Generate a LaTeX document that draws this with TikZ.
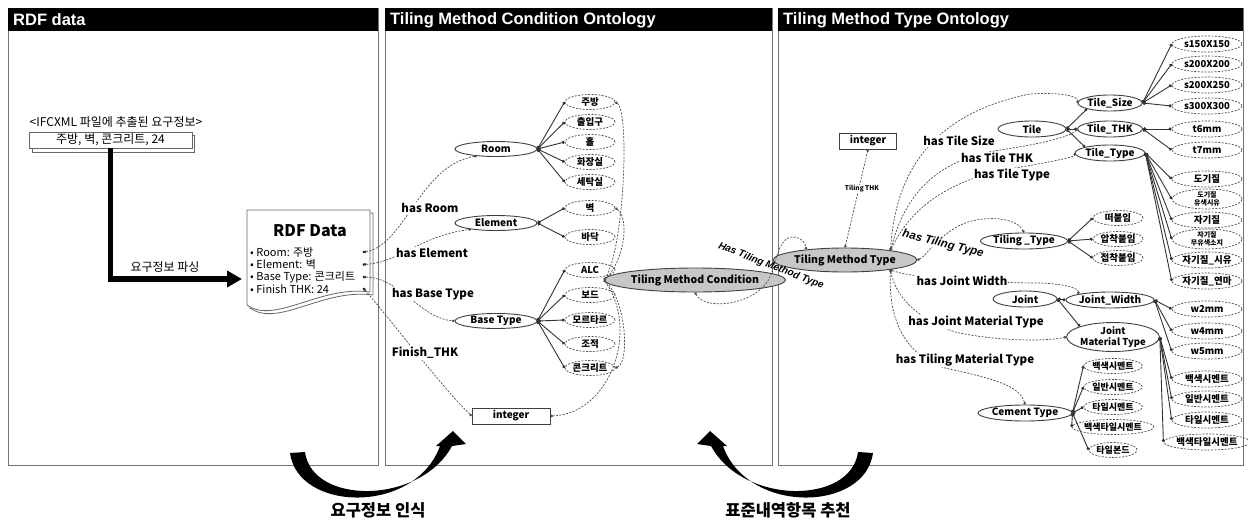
\documentclass[tikz,border=0pt]{standalone}
\usepackage{fontspec}
\setmainfont{Noto Sans CJK KR}
\newfontfamily\headfont{Liberation Sans}
\usetikzlibrary{shapes.geometric,arrows.meta}

\newcommand\fsz[1]{\fontsize{#1}{#1}\selectfont}

\tikzset{
  panel/.style={draw=black!55, line width=0.9pt},
  headtext/.style={text=white, font=\headfont\bfseries\fsz{16.5}, anchor=west, inner sep=0pt},
  cls/.style={ellipse, draw=black!75, line width=0.9pt, inner sep=0pt, minimum height=15pt, font=\bfseries\fsz{10}, align=center},
  inst/.style={ellipse, draw=black!70, dash pattern=on 2pt off 1.4pt, line width=0.7pt, inner sep=0pt,
               minimum width=50pt, minimum height=15pt, font=\bfseries\fsz{9.5}, align=center},
  instr/.style={inst, minimum width=70pt, minimum height=16pt},
  maincls/.style={cls, fill=black!22, minimum width=125pt, minimum height=24pt, font=\bfseries\fsz{10.5}},
  intbox/.style={draw=black!75, line width=0.8pt, minimum height=16pt, inner sep=0pt, font=\bfseries\fsz{10}},
  lnk/.style={draw=black!80, line width=0.9pt, {Circle[length=3.6pt]}-{Circle[length=3pt]}},
  rel/.style={draw=black!70, line width=0.7pt, dash pattern=on 2pt off 1.4pt, {Circle[length=2.6pt]}-{Circle[length=2.6pt]}},
  rellab/.style={font=\bfseries\fsz{11.5}, fill=white, inner sep=1pt},
  slantlab/.style={font=\headfont\bfseries\itshape\fsz{10}, inner sep=0.5pt},
  bigcurve/.style={fill=black},
}

\begin{document}
\begin{tikzpicture}[x=1pt,y=-1pt]
\useasboundingbox (0,0) rectangle (1248,525);
\fill[white] (0,0) rectangle (1248,525);

% ---------- panels and title bars ----------
\draw[panel] (8,8) rectangle (378,465);
\draw[panel] (385,8) rectangle (772,465);
\draw[panel] (778,8) rectangle (1243,465);
\fill (8,8) rectangle (378,31);
\fill (385,8) rectangle (772,31);
\fill (778,8) rectangle (1243,31);
\node[headtext] (h1) at (13,20) {RDF data};
\node[headtext] (h2) at (390,20) {Tiling Method Condition Ontology};
\node[headtext] (h3) at (783,20) {Tiling Method Type Ontology};

% ---------- RDF data panel ----------
\node[font=\fsz{12}] (ifc) at (116,122) {<IFCXML 파일에 추출된 요구정보>};
\draw[black!60, fill=white, line width=0.8pt] (32,135) rectangle (194,152);
\node[draw=black!60, line width=0.8pt, fill=white, minimum width=163pt, minimum height=16pt, inner sep=0pt, font=\fsz{12}] (req) at (110.5,140) {주방, 벽, 콘크리트, 24};

% document with wavy bottom
\begin{scope}[shift={(3,3)}]
  \draw[black!60, fill=white, line width=0.8pt] (247,210) -- (370,210) -- (370,292) .. controls (320,285) and (275,325) .. (247,305) -- cycle;
\end{scope}
\draw[black!60, fill=white, line width=0.8pt] (247,210) -- (370,210) -- (370,292) .. controls (320,285) and (275,325) .. (247,305) -- cycle;
\node[inner sep=0pt, minimum width=123pt, minimum height=96pt] (doc) at (308.5,258) {};
\node[font=\bfseries\fsz{16}] (doctitle) at (310,231) {RDF Data};
\node[anchor=west, font=\fsz{11}, inner sep=0pt] (b1) at (250,252) {• Room: 주방};
\node[anchor=west, font=\fsz{11}, inner sep=0pt] (b2) at (250,264.5) {• Element: 벽};
\node[anchor=west, font=\fsz{11}, inner sep=0pt] (b3) at (250,277) {• Base Type: 콘크리트};
\node[anchor=west, font=\fsz{11}, inner sep=0pt] (b4) at (250,289.5) {• Finish THK: 24};
\coordinate (d1) at (364,252);
\coordinate (d2) at (364,264.5);
\coordinate (d3) at (364,277);
\coordinate (d4) at (364,289);
\foreach \d in {d1,d2,d3,d4} \fill (\d) circle (1.3pt);

% parsing arrow
\coordinate (bend) at (110.5,279);
\coordinate (docin) at (242,279);
\draw[line width=5.5pt, line join=miter, -{Triangle[length=15pt,width=16pt]}] (req.south) -- (bend) -- (docin);
\node[font=\fsz{12}] (parse) at (165,267) {요구정보 파싱};

% ---------- Tiling Method Condition Ontology ----------
\node[cls, minimum width=82pt] (room) at (496,149) {Room};
\node[cls, minimum width=82pt] (elem) at (496,223) {Element};
\node[cls, minimum width=82pt] (base) at (496,321) {Base Type};
\foreach \n/\y/\t in {r1/102/주방, r2/122/출입구, r3/142/홀, r4/162/화장실, r5/182/세탁실}
  \node[inst] (\n) at (590,\y) {\t};
\foreach \n/\y/\t in {e1/208/벽, e2/237/바닥}
  \node[inst] (\n) at (590,\y) {\t};
\foreach \n/\y/\t in {m1/270/ALC, m2/295/보드, m3/320/모르타르, m4/344/조적, m5/368/콘크리트}
  \node[inst] (\n) at (590,\y) {\t};
\foreach \n in {r1,r2,r3,r4,r5} \draw[lnk] (room.east) -- (\n.west);
\foreach \n in {e1,e2} \draw[lnk] (elem.east) -- (\n.west);
\foreach \n in {m1,m2,m3,m4,m5} \draw[lnk] (base.east) -- (\n.west);

\node[maincls] (tmc) at (695,280) {Tiling Method Condition};
\node[intbox, minimum width=78pt] (int1) at (511,416) {integer};

\draw[rel] (d1) .. controls (405,245) and (420,165) .. (room.200);
\draw[rel] (d2) .. controls (400,262) and (420,236) .. (elem.194);
\draw[rel] (d3) .. controls (400,278) and (420,318) .. (base.west);
\draw[rel] (d4) .. controls (395,325) and (440,385) .. (int1.west);
\node[rellab] (lroom) at (430,208) {has Room};
\node[rellab] (lelem) at (432,253) {has Element};
\node[rellab] (lbase) at (433,294) {has Base Type};
\node[rellab] (lfin) at (425,353) {Finish\_THK};

\draw[rel] (r1.east) .. controls (630,112) and (624,250) .. (tmc.west);
\draw[rel] (e1.east) .. controls (630,218) and (624,262) .. (tmc.west);
\draw[rel] (m5.east) .. controls (630,362) and (626,300) .. (tmc.west);
\draw[rel] (int1.east) .. controls (610,414) and (640,330) .. (tmc.west);

% ---------- Tiling Method Type Ontology ----------
\node[maincls] (tmt) at (845,260) {Tiling Method Type};
\node[intbox, minimum width=57pt] (int2) at (868,141) {integer};
\draw[rel] (tmt.north) -- (int2.south);
\node[font=\bfseries\fsz{6.5}, fill=white, inner sep=0.5pt] (lthk) at (862,189) {Tiling THK};

% condition -> type
\draw[rel] (tmc.south) .. controls (705,312) and (762,305) .. (772,272)
           .. controls (778,250) and (782,238) .. (792,237)
           .. controls (802,237) and (806,244) .. (tmt.165);
\node[slantlab, rotate=-21] (lhmt) at (771,266) {Has Tiling Method Type};

% tile classes
\node[cls, minimum width=68pt, minimum height=16pt] (tile) at (1032,129) {Tile};
\node[cls, minimum width=44pt, minimum height=16pt] (tsize) at (1110,103) {Tile\_Size};
\node[cls, minimum width=44pt, minimum height=16pt] (tthk) at (1110,129) {Tile\_THK};
\node[cls, minimum width=44pt, minimum height=16pt] (ttype) at (1110,153) {Tile\_Type};
\draw[lnk] (tile.east) -- (tsize.south west);
\draw[lnk] (tile.east) -- (tthk.west);
\draw[lnk] (tile.east) -- (ttype.north west);

\foreach \n/\y/\t in {ts1/44/s150X150, ts2/64/s200X200, ts3/85/s200X250, ts4/106/s300X300}
  \node[instr] (\n) at (1207,\y) {\t};
\foreach \n/\y/\t in {tk1/129/t6mm, tk2/150/t7mm}
  \node[instr] (\n) at (1207,\y) {\t};
\foreach \n/\y/\t in {tt1/179/도기질, tt3/220/자기질, tt5/260/자기질\_시유, tt6/281/자기질\_연마}
  \node[instr] (\n) at (1207,\y) {\t};
\node[instr, font=\bfseries\fontsize{7}{7.5}\selectfont] (tt2) at (1207,199) {도기질\\유색시유};
\node[instr, font=\bfseries\fontsize{7}{7.5}\selectfont] (tt4) at (1207,239) {자기질\\무유색소지};
\foreach \n in {ts1,ts2,ts3,ts4} \draw[lnk] (tsize.east) -- (\n.west);
\foreach \n in {tk1,tk2} \draw[lnk] (tthk.east) -- (\n.west);
\foreach \n in {tt1,tt2,tt3,tt4,tt5,tt6} \draw[lnk] (ttype.east) -- (\n.west);

% tiling type
\node[cls, minimum width=66pt, minimum height=16pt] (tty) at (1024,241) {Tiling \_Type};
\foreach \n/\y/\t in {tp1/218/떠붙임, tp2/239/압착붙임, tp3/258/접착붙임}
  \node[inst] (\n) at (1118,\y) {\t};
\foreach \n in {tp1,tp2,tp3} \draw[lnk] (tty.east) -- (\n.west);

% joint
\node[cls, minimum width=64pt, minimum height=16pt] (joint) at (1025,299) {Joint};
\node[cls, minimum width=60pt, minimum height=16pt] (jw) at (1110,300) {Joint\_Width};
\node[cls, minimum width=60pt, minimum height=22pt, font=\bfseries\fontsize{9.5}{10.5}\selectfont] (jmt) at (1113,337) {Joint\\Material Type};
\draw[lnk] (joint.east) -- (jw.west);
\draw[lnk] (joint.east) -- (jmt.north west);
\foreach \n/\y/\t in {jw1/309/w2mm, jw2/331/w4mm, jw3/351/w5mm}
  \node[instr] (\n) at (1207,\y) {\t};
\foreach \n/\y/\t in {jm1/379/백색시멘트, jm2/399/일반시멘트, jm3/420/타일시멘트, jm4/442/백색타일시멘트}
  \node[instr] (\n) at (1207,\y) {\t};
\foreach \n in {jw1,jw2,jw3} \draw[lnk] (jw.east) -- (\n.west);
\foreach \n in {jm1,jm2,jm3,jm4} \draw[lnk] (jmt.east) -- (\n.west);

% cement
\node[cls, minimum width=64pt, minimum height=16pt] (cem) at (1025,413) {Cement Type};
\foreach \n/\y/\t in {cm1/366/백색시멘트, cm2/387/일반시멘트, cm3/407/타일시멘트, cm4/427/백색타일시멘트, cm5/450/타일본드}
  \node[inst, minimum width=48pt, font=\bfseries\fsz{9}] (\n) at (1113,\y) {\t};
\foreach \n in {cm1,cm2,cm3,cm4,cm5} \draw[lnk] (cem.east) -- (\n.west);

% relations from Tiling Method Type
\draw[rel] (tmt.12) .. controls (895,180) and (925,115) .. (1030,94) .. controls (1060,92) and (1078,96) .. (tsize.west);
\draw[rel] (tmt.12) .. controls (905,195) and (935,160) .. (1000,150) .. controls (1040,144) and (1070,137) .. (tthk.west);
\draw[rel] (tmt.12) .. controls (910,210) and (945,180) .. (1015,168) .. controls (1050,162) and (1075,157) .. (ttype.west);
\draw[rel] (tmt.east) .. controls (925,257) and (935,240) .. (955,228) .. controls (975,215) and (1015,215) .. (tty.north);
\draw[rel] (tmt.-12) .. controls (910,278) and (990,283) .. (1040,283) .. controls (1065,284) and (1078,288) .. (jw.north west);
\draw[rel] (tmt.-12) .. controls (895,295) and (915,318) .. (955,332) .. controls (1000,342) and (1050,341) .. (jmt.west);
\draw[rel] (tmt.-12) .. controls (888,320) and (905,355) .. (945,368) .. controls (990,378) and (1020,385) .. (cem.north);

\node[rellab] (lsize) at (959,141) {has Tile Size};
\node[rellab] (ltthk) at (997,158) {has Tile THK};
\node[rellab] (lttype) at (1012,175) {has Tile Type};
\node[slantlab, font=\headfont\bfseries\itshape\fsz{11.5}, rotate=-14, fill=white] (ltiling) at (943,244) {has Tiling Type};
\node[rellab] (ljw) at (962,281) {has Joint Width};
\node[rellab] (ljmt) at (976,322) {has Joint Material Type};
\node[rellab] (ltmt) at (965,360) {has Tiling Material Type};

% ---------- process arrows ----------
\fill[bigcurve] (290,453) .. controls (298,512) and (415,515) .. (440,446)
   -- (436,446) -- (453,431) -- (466,444) -- (452,446)
   .. controls (420,505) and (312,505) .. (305,452) -- cycle;
\begin{scope}[shift={(1163,0)}, xscale=-1]
\fill[bigcurve] (290,453) .. controls (298,512) and (415,515) .. (440,446)
   -- (436,446) -- (453,431) -- (466,444) -- (452,446)
   .. controls (420,505) and (312,505) .. (305,452) -- cycle;
\end{scope}
\node[font=\bfseries\fsz{16.5}] (step1) at (378,510) {요구정보 인식};
\node[font=\bfseries\fsz{16.5}] (step2) at (788,510) {표준내역항목 추천};
\end{tikzpicture}
\end{document}
